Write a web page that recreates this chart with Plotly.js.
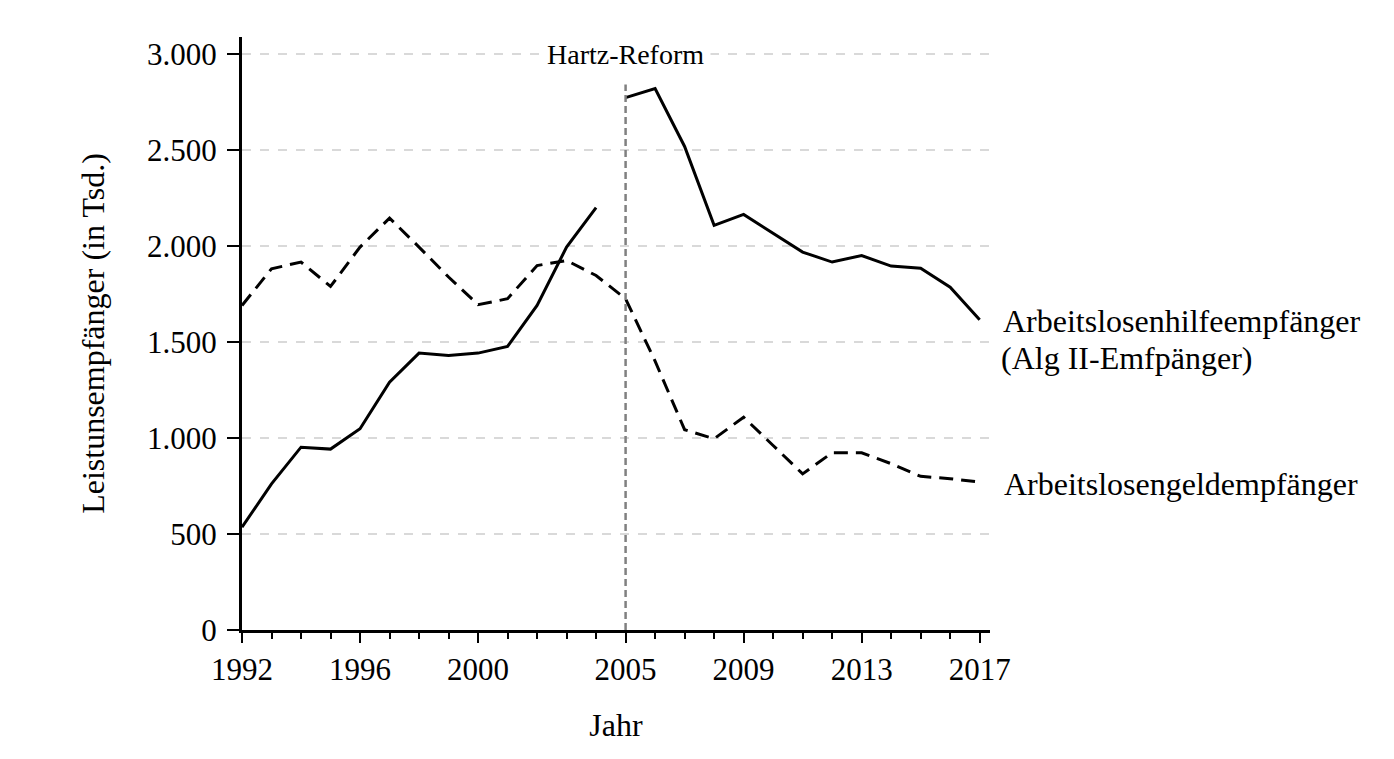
<!DOCTYPE html>
<html>
<head>
<meta charset="utf-8">
<script src="https://cdn.plot.ly/plotly-3.0.1.min.js"></script>
<style>
  html, body { margin: 0; padding: 0; background: #ffffff; }
  #chart { width: 1394px; height: 759px; }
</style>
</head>
<body>
<div id="chart"></div>
<script>
// Data (in Tsd.)
const yearsAlhi = [1992, 1993, 1994, 1995, 1996, 1997, 1998, 1999, 2000, 2001, 2002, 2003, 2004];
const alhiValues = [535, 761, 952, 942, 1048, 1291, 1442, 1430, 1442, 1477, 1690, 1994, 2199];

const yearsAlg2 = [2005, 2006, 2007, 2008, 2009, 2010, 2011, 2012, 2013, 2014, 2015, 2016, 2017];
const alg2Values = [2772, 2819, 2518, 2107, 2164, 2064, 1968, 1916, 1950, 1895, 1884, 1785, 1616];

const yearsAlg = [1992, 1993, 1994, 1995, 1996, 1997, 1998, 1999, 2000, 2001, 2002, 2003, 2004,
                  2005, 2006, 2007, 2008, 2009, 2010, 2011, 2012, 2013, 2014, 2015, 2016, 2017];
const algValues = [1690, 1881, 1916, 1789, 1994, 2145, 1994, 1838, 1694, 1725, 1898, 1924, 1846,
                   1725, 1400, 1043, 996, 1108, 961, 813, 923, 923, 866, 800, 788, 770];

const xTickVals = [1992, 1996, 2000, 2005, 2009, 2013, 2017];
const xTickText = ["1992", "1996", "2000", "2005", "2009", "2013", "2017"];
const yTickVals = [0, 500, 1000, 1500, 2000, 2500, 3000];

const reformYear = 2005;
const reformLabel = "Hartz-Reform";
const labelAlhi1 = "Arbeitslosenhilfeempfänger";
const labelAlhi2 = "(Alg II-Emfpänger)";
const labelAlg = "Arbeitslosengeldempfänger";

const FONT = "Liberation Serif, Times New Roman, serif";

const traces = [
  {
    x: yearsAlhi, y: alhiValues, type: "scatter", mode: "lines",
    name: "Arbeitslosenhilfeempfänger",
    line: { color: "#000000", width: 3 }, cliponaxis: false
  },
  {
    x: yearsAlg2, y: alg2Values, type: "scatter", mode: "lines",
    name: "Alg II-Empfänger",
    line: { color: "#000000", width: 3 }, cliponaxis: false
  },
  {
    x: yearsAlg, y: algValues, type: "scatter", mode: "lines",
    name: "Arbeitslosengeldempfänger",
    line: { color: "#000000", width: 3, dash: "14px,8px" }, cliponaxis: false
  }
];

const layout = {
  width: 1394, height: 759,
  margin: { l: 242, r: 404, t: 37, b: 129 },
  paper_bgcolor: "#ffffff", plot_bgcolor: "#ffffff",
  showlegend: false,
  separators: ",.",
  font: { family: FONT, size: 31, color: "#000000" },
  xaxis: {
    range: [1992, 2017.35],
    tickmode: "array", tickvals: xTickVals, ticktext: xTickText,
    ticks: "outside", ticklen: 10, tickwidth: 2, tickcolor: "#000000",
    minor: { tickmode: "linear", tick0: 1992, dtick: 1, ticks: "outside", ticklen: 6, tickwidth: 2, tickcolor: "#000000", showgrid: false },
    showline: true, linecolor: "#000000", linewidth: 3,
    showgrid: false, zeroline: false,
    tickfont: { family: FONT, size: 31, color: "#000000" },
    title: { text: "Jahr", font: { family: FONT, size: 32, color: "#000000" }, standoff: 28 }
  },
  yaxis: {
    range: [0, 3088],
    tickmode: "array", tickvals: yTickVals, tickformat: ",d",
    ticks: "outside", ticklen: 12, tickwidth: 2, tickcolor: "#000000",
    ticklabelstandoff: 4,
    showline: true, linecolor: "#000000", linewidth: 3,
    showgrid: true, gridcolor: "#d9d9d9", gridwidth: 2, griddash: "dash",
    zeroline: false,
    tickfont: { family: FONT, size: 31, color: "#000000" },
    title: { text: "Leistunsempfänger (in Tsd.)", font: { family: FONT, size: 32, color: "#000000" }, standoff: 33 }
  },
  shapes: [
    {
      type: "line", xref: "x", yref: "y",
      x0: reformYear, x1: reformYear, y0: 0, y1: 2840,
      line: { color: "#808080", width: 2.5, dash: "7px,4px" }
    }
  ],
  annotations: [
    {
      x: reformYear, y: 3000, xref: "x", yref: "y",
      text: reformLabel, showarrow: false,
      font: { family: FONT, size: 28, color: "#000000" },
      bgcolor: "#ffffff", borderpad: 6, yshift: -1
    },
    {
      x: 1.0145, y: 1616, xref: "paper", yref: "y", xanchor: "left", yanchor: "bottom",
      text: labelAlhi1, showarrow: false, yshift: -21,
      font: { family: FONT, size: 32, color: "#000000" }
    },
    {
      x: 1.0125, y: 1616, xref: "paper", yref: "y", xanchor: "left", yanchor: "top",
      text: labelAlhi2, showarrow: false, yshift: -18,
      font: { family: FONT, size: 32, color: "#000000" }
    },
    {
      x: 1.0165, y: 760, xref: "paper", yref: "y", xanchor: "left", yanchor: "middle",
      text: labelAlg, showarrow: false,
      font: { family: FONT, size: 32, color: "#000000" }
    }
  ]
};

Plotly.newPlot("chart", traces, layout, { displayModeBar: false, staticPlot: true });
</script>
</body>
</html>
